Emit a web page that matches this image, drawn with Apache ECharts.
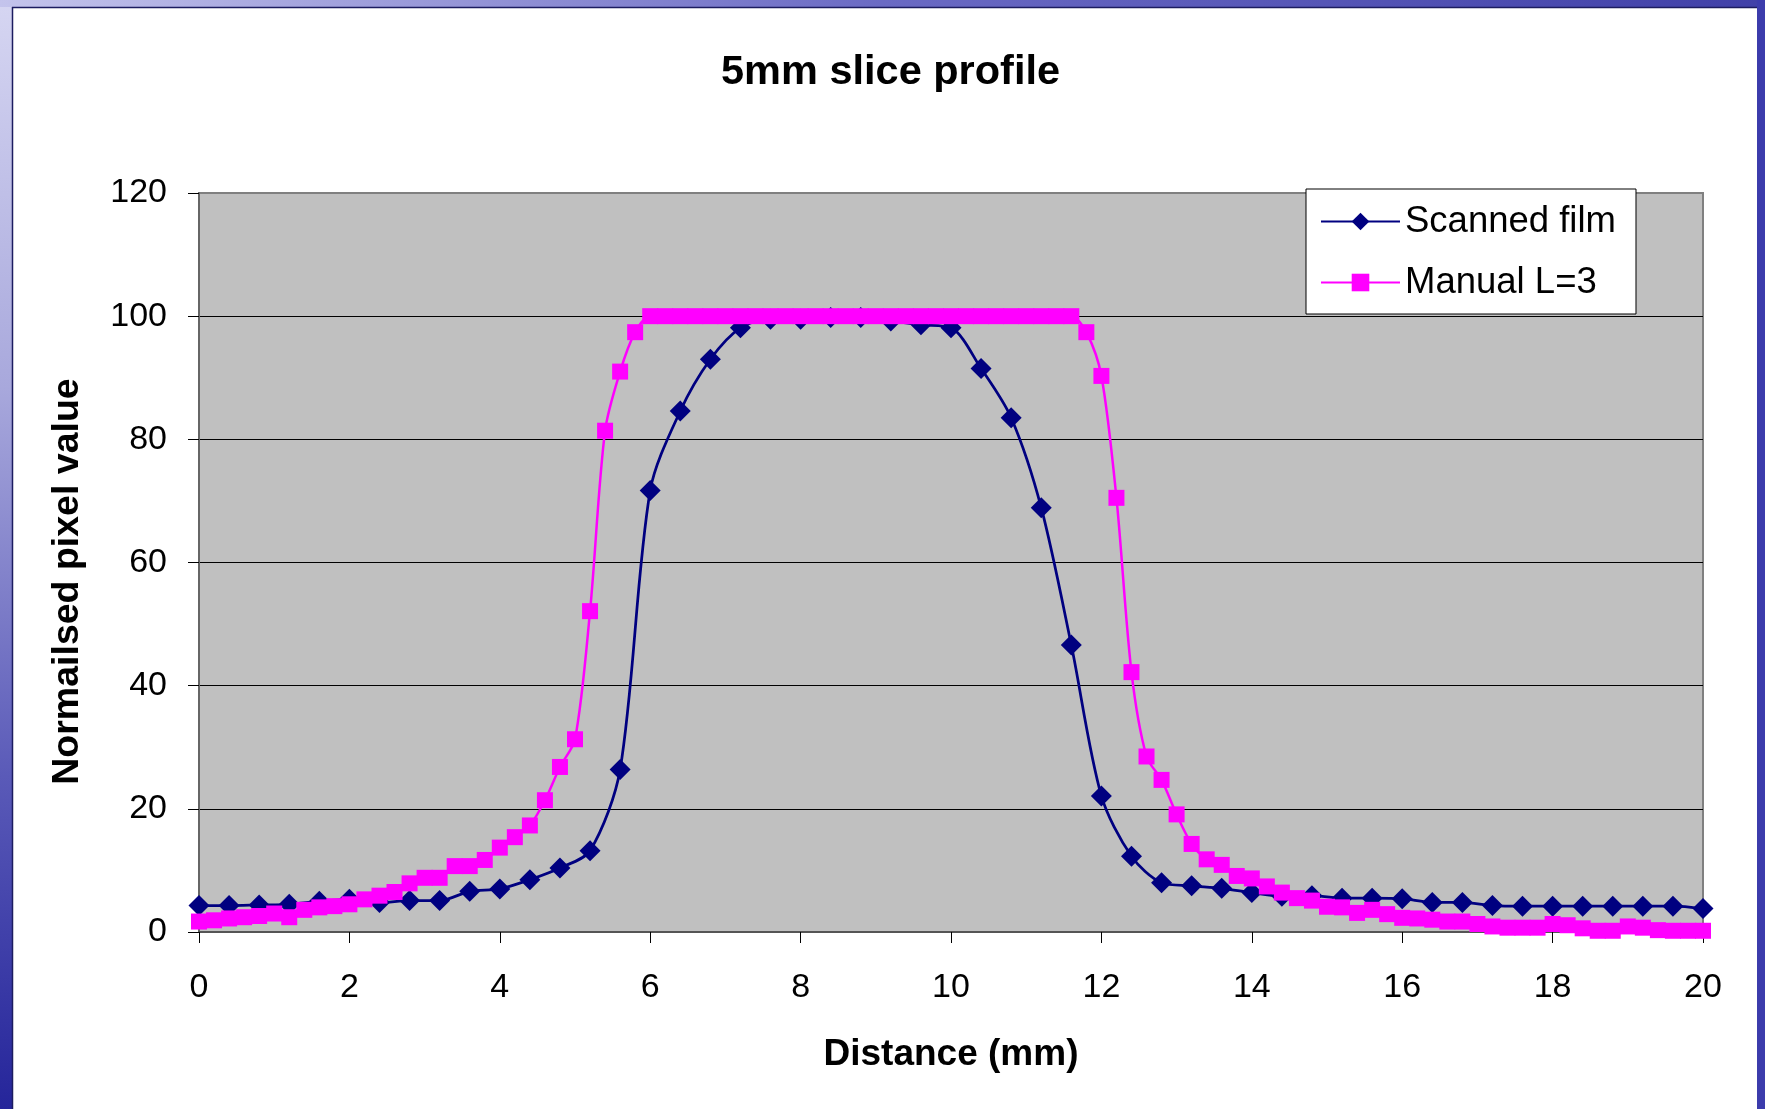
<!DOCTYPE html>
<html>
<head>
<meta charset="utf-8">
<script src="https://cdn.jsdelivr.net/npm/echarts@6/dist/echarts.min.js"></script>
<style>
  html, body { margin: 0; padding: 0; background: #fff; }
  #chart { width: 1765px; height: 1109px; }
</style>
</head>
<body>
<div id="chart"></div>
<script>
// ---- data ----
const titleText = '5mm slice profile';
const xAxisName = 'Distance (mm)';
const yAxisName = 'Normailsed pixel value';
const seriesNames = ['Scanned film', 'Manual L=3'];

const xTicks = [0, 2, 4, 6, 8, 10, 12, 14, 16, 18, 20];
const yTicks = [0, 20, 40, 60, 80, 100, 120];

const scanDist = [0, 0.4, 0.8, 1.2, 1.6, 2, 2.4, 2.8, 3.2, 3.6, 4, 4.4, 4.8, 5.2, 5.6, 6, 6.4, 6.8, 7.2, 7.6,
  8, 8.4, 8.8, 9.2, 9.6, 10, 10.4, 10.8, 11.2, 11.6, 12, 12.4, 12.8, 13.2, 13.6, 14, 14.4, 14.8, 15.2, 15.6,
  16, 16.4, 16.8, 17.2, 17.6, 18, 18.4, 18.8, 19.2, 19.6, 20];
const scanVal = [4.3, 4.3, 4.4, 4.5, 5.0, 5.3, 4.8, 5.1, 5.1, 6.6, 7.0, 8.5, 10.4, 13.2, 26.4, 71.7, 84.6, 93.0, 98.1, 99.5,
  99.5, 99.8, 99.8, 99.2, 98.6, 98.1, 91.5, 83.5, 68.9, 46.6, 22.1, 12.3, 8.0, 7.5, 7.1, 6.4, 5.8, 5.9, 5.5, 5.5,
  5.4, 4.8, 4.8, 4.3, 4.2, 4.2, 4.2, 4.2, 4.2, 4.2, 3.8];

const manualDist = [0, 0.2, 0.4, 0.6, 0.8, 1, 1.2, 1.4, 1.6, 1.8, 2, 2.2, 2.4, 2.6, 2.8, 3, 3.2, 3.4, 3.6, 3.8,
  4, 4.2, 4.4, 4.6, 4.8, 5, 5.2, 5.4, 5.6, 5.8, 6, 6.2, 6.4, 6.6, 6.8, 7, 7.2, 7.4, 7.6, 7.8,
  8, 8.2, 8.4, 8.6, 8.8, 9, 9.2, 9.4, 9.6, 9.8, 10, 10.2, 10.4, 10.6, 10.8, 11, 11.2, 11.4, 11.6, 11.8,
  12, 12.2, 12.4, 12.6, 12.8, 13, 13.2, 13.4, 13.6, 13.8, 14, 14.2, 14.4, 14.6, 14.8, 15, 15.2, 15.4, 15.6, 15.8,
  16, 16.2, 16.4, 16.6, 16.8, 17, 17.2, 17.4, 17.6, 17.8, 18, 18.2, 18.4, 18.6, 18.8, 19, 19.2, 19.4, 19.6, 19.8, 20];
const manualVal = [1.7, 1.9, 2.2, 2.4, 2.6, 3.0, 2.4, 3.6, 4.0, 4.2, 4.5, 5.3, 5.9, 6.5, 7.9, 8.8, 8.8, 10.7, 10.7, 11.7,
  13.7, 15.4, 17.3, 21.4, 26.8, 31.3, 52.1, 81.4, 91.0, 97.4, 100, 100, 100, 100, 100, 100, 100, 100, 100, 100,
  100, 100, 100, 100, 100, 100, 100, 100, 100, 100, 100, 100, 100, 100, 100, 100, 100, 100, 100, 97.4,
  90.3, 70.5, 42.2, 28.5, 24.7, 19.1, 14.3, 11.8, 10.9, 9.1, 8.7, 7.4, 6.4, 5.5, 5.1, 4.1, 4.0, 3.1, 3.6, 2.9,
  2.3, 2.2, 2.0, 1.7, 1.7, 1.3, 0.9, 0.7, 0.7, 0.7, 1.3, 1.1, 0.6, 0.2, 0.2, 0.9, 0.7, 0.3, 0.2, 0.2, 0.2];

// ---- chart ----
const FONT = '"Liberation Sans", Arial, sans-serif';
const chart = echarts.init(document.getElementById('chart'), null, { renderer: 'canvas' });

const scanData = scanDist.map((d, i) => [d, scanVal[i]]);
const manualData = manualDist.map((d, i) => [d, manualVal[i]]);

const option = {
  backgroundColor: '#ffffff',
  animation: false,
  title: {
    text: titleText,
    left: 716,
    top: 47,
    textStyle: { fontFamily: FONT, fontSize: 41.5, fontWeight: 'bold', color: '#000' }
  },
  legend: {
    orient: 'vertical',
    left: 1306,
    top: 189,
    backgroundColor: '#ffffff',
    borderColor: '#000000',
    borderWidth: 1,
    padding: [14, 20, 13, 14],
    itemWidth: 79,
    itemHeight: 22,
    itemGap: 24,
    textStyle: { fontFamily: FONT, fontSize: 36.5, color: '#000' },
    data: seriesNames
  },
  grid: {
    left: 199, top: 193, right: 62, bottom: 177,
    show: true,
    backgroundColor: '#C0C0C0',
    borderColor: '#808080',
    borderWidth: 2
  },
  xAxis: {
    type: 'value',
    min: xTicks[0], max: xTicks[xTicks.length - 1], interval: 2,
    name: xAxisName,
    nameLocation: 'middle',
    nameGap: 104,
    nameTextStyle: { fontFamily: FONT, fontSize: 37, fontWeight: 'bold', color: '#000' },
    axisLine: { show: true, onZero: false, lineStyle: { color: '#555', width: 2 } },
    axisTick: { show: true, length: 11, lineStyle: { color: '#000', width: 1 } },
    axisLabel: { fontFamily: FONT, fontSize: 34, color: '#000', margin: 39 },
    splitLine: { show: false }
  },
  yAxis: {
    type: 'value',
    min: yTicks[0], max: yTicks[yTicks.length - 1], interval: 20,
    name: yAxisName,
    nameLocation: 'middle',
    nameGap: 112,
    nameTextStyle: { fontFamily: FONT, fontSize: 37.5, fontWeight: 'bold', color: '#000', padding: [0, 38, 0, 0] },
    axisLine: { show: true, lineStyle: { color: '#666', width: 2 } },
    axisTick: { show: true, length: 11, lineStyle: { color: '#000', width: 1 } },
    axisLabel: { fontFamily: FONT, fontSize: 34, color: '#000', margin: 32 },
    splitLine: { show: true, lineStyle: { color: ['#808080', '#000', '#000', '#000', '#000', '#000', '#808080'], width: 1 } }
  },
  series: [
    {
      name: seriesNames[0],
      type: 'line',
      data: scanData,
      smooth: 0.3,
      symbol: 'diamond',
      symbolSize: 21,
      itemStyle: { color: '#000080' },
      lineStyle: { color: '#000080', width: 2.75 },
      z: 3
    },
    {
      name: seriesNames[1],
      type: 'line',
      data: manualData,
      smooth: 0.3,
      symbol: 'rect',
      symbolSize: 16,
      itemStyle: { color: '#FF00FF' },
      lineStyle: { color: '#FF00FF', width: 2.5 },
      z: 4
    }
  ],
  graphic: [
    {
      type: 'rect', shape: { x: 0, y: 0, width: 12, height: 1109 }, z: 100,
      style: { fill: new echarts.graphic.LinearGradient(0, 0, 0, 1, [
        { offset: 0, color: '#d6d6f2' }, { offset: 0.35, color: '#a8a8dc' },
        { offset: 0.7, color: '#5a5ab8' }, { offset: 1, color: '#25259a' }]) }
    },
    {
      type: 'rect', shape: { x: 0, y: 0, width: 1765, height: 7 }, z: 100,
      style: { fill: new echarts.graphic.LinearGradient(0, 0, 1, 0, [
        { offset: 0, color: '#c4c4ec' }, { offset: 0.5, color: '#6a6ac4' }, { offset: 1, color: '#4040a8' }]) }
    },
    {
      type: 'rect', shape: { x: 1757, y: 0, width: 8, height: 1109 }, z: 100,
      style: { fill: '#3c3cac' }
    },
    {
      type: 'line', shape: { x1: 12.5, y1: 7, x2: 12.5, y2: 1109 }, z: 100,
      style: { stroke: '#1c1c60', lineWidth: 1.5 }
    },
    {
      type: 'line', shape: { x1: 12, y1: 7.5, x2: 1757, y2: 7.5 }, z: 100,
      style: { stroke: '#1c1c60', lineWidth: 1.5 }
    }
  ]
};
chart.setOption(option);
</script>
</body>
</html>
